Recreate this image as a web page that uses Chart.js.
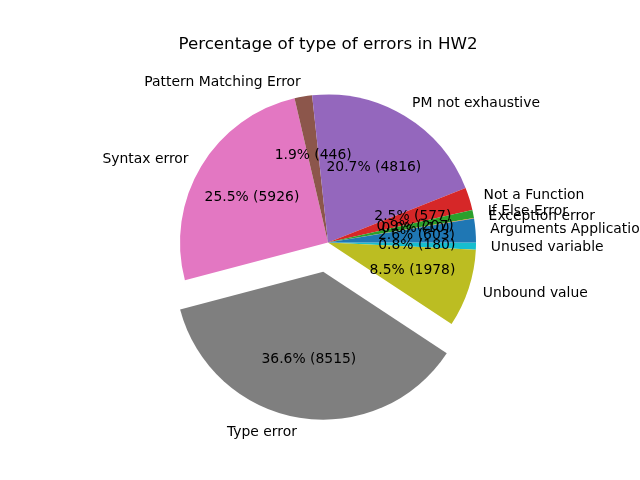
<!DOCTYPE html>
<html>
<head>
<meta charset="utf-8">
<script src="https://cdn.jsdelivr.net/npm/chart.js@4.4.0/dist/chart.umd.min.js"></script>
<style>
html,body{margin:0;padding:0;background:#fff;}
#wrap{width:640px;height:480px;}
</style>
</head>
<body>
<div id="wrap"><canvas id="c" width="640" height="480"></canvas></div>
<script>
// Data in matplotlib order (counter-clockwise from 3 o'clock)
const categories = ["Arguments Application", "Exception error", "If Else Error", "Not a Function",
  "PM not exhaustive", "Pattern Matching Error", "Syntax error", "Type error", "Unbound value", "Unused variable"];
const counts = [603, 10, 207, 577, 4816, 446, 5926, 8515, 1978, 180];
const colors = ["#1f77b4", "#ff7f0e", "#2ca02c", "#d62728", "#9467bd", "#8c564b", "#e377c2", "#7f7f7f", "#bcbd22", "#17becf"];
const explode = [0, 0, 0, 0, 0, 0, 0, 0.2, 0, 0];
const titleText = "Percentage of type of errors in HW2";

const total = counts.reduce((a, b) => a + b, 0);
// Chart.js draws clockwise: reverse so the visual order matches matplotlib's counter-clockwise order
const rCats = categories.slice().reverse();
const rCounts = counts.slice().reverse();
const rColors = colors.slice().reverse();
const rExplode = explode.slice().reverse();

const FONT = '"DejaVu Sans", sans-serif';

function explodeShift(el, i) {
  const mid = (el.startAngle + el.endAngle) / 2;
  const e = rExplode[i] * el.outerRadius;
  return { dx: Math.cos(mid) * e, dy: Math.sin(mid) * e, mid: mid };
}

const explodePlugin = {
  id: 'explodePlugin',
  afterDatasetUpdate(chart, args) {
    const meta = chart.getDatasetMeta(args.index);
    meta.data.forEach((el, i) => {
      if (rExplode[i] > 0) {
        const orig = Chart.ArcElement.prototype.draw;
        el.draw = function (ctx) {
          const s = explodeShift(this, i);
          ctx.save();
          ctx.translate(s.dx, s.dy);
          orig.call(this, ctx);
          ctx.restore();
        };
      }
    });
  },
  afterDraw(chart) {
    const ctx = chart.ctx;
    const meta = chart.getDatasetMeta(0);
    ctx.save();
    ctx.fillStyle = '#000';
    // title
    ctx.font = '16.7px ' + FONT;
    ctx.textAlign = 'center';
    ctx.textBaseline = 'alphabetic';
    ctx.fillText(titleText, 328, 49);
    ctx.font = '13.9px ' + FONT;
    ctx.textBaseline = 'middle';
    meta.data.forEach((el, i) => {
      const s = explodeShift(el, i);
      const cx = el.x + s.dx, cy = el.y + s.dy;
      const r = el.outerRadius;
      const lx = s.dx + 1.1 * r * Math.cos(s.mid);
      const ly = cy + 1.1 * r * Math.sin(s.mid) + 0.5;
      ctx.textAlign = lx > 0 ? 'left' : 'right';
      ctx.fillText(rCats[i], el.x + lx, ly);
      const px = cx + 0.6 * r * Math.cos(s.mid);
      const py = cy + 0.6 * r * Math.sin(s.mid) + 0.5;
      ctx.textAlign = 'center';
      const pct = (rCounts[i] / total * 100).toFixed(1) + '% (' + rCounts[i] + ')';
      ctx.fillText(pct, px, py);
    });
    ctx.restore();
  }
};

new Chart(document.getElementById('c'), {
  type: 'pie',
  data: {
    labels: rCats,
    datasets: [{
      data: rCounts,
      backgroundColor: rColors,
      borderWidth: 0,
      hoverOffset: 0
    }]
  },
  options: {
    responsive: false,
    animation: false,
    rotation: 90,
    radius: 148,
    layout: { padding: { left: 16, right: 0, top: 5, bottom: 0 } },
    plugins: { legend: { display: false }, tooltip: { enabled: false }, title: { display: false } },
    events: []
  },
  plugins: [explodePlugin]
});
</script>
</body>
</html>
